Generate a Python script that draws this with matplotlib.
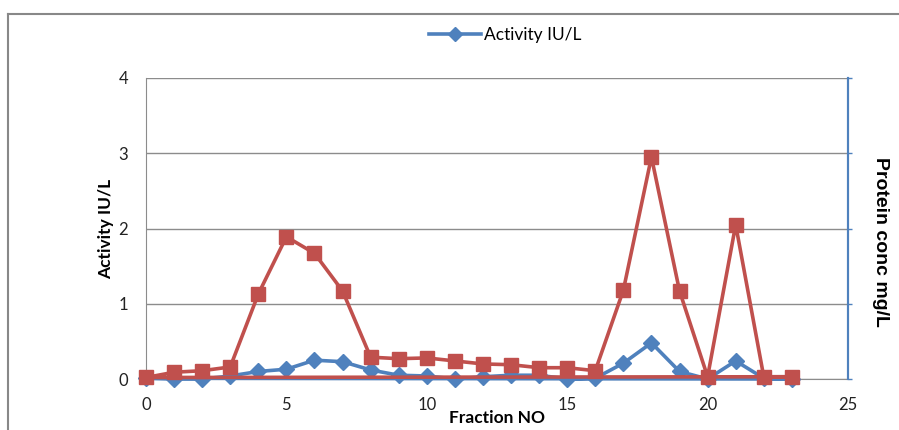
import matplotlib
matplotlib.use("Agg")
import matplotlib.pyplot as plt
from matplotlib.lines import Line2D
import numpy as np

fractions = list(range(0, 24))
activity = [0.01, 0.0, 0.0, 0.04, 0.10, 0.13, 0.25, 0.23, 0.12, 0.05, 0.04, 0.0,
            0.03, 0.05, 0.05, 0.0, 0.01, 0.21, 0.48, 0.10, 0.0, 0.24, 0.01, 0.0]
protein = [0.02, 0.09, 0.11, 0.16, 1.13, 1.89, 1.67, 1.17, 0.29, 0.27, 0.28, 0.24,
           0.20, 0.19, 0.15, 0.15, 0.11, 1.18, 2.95, 1.17, 0.03, 2.05, 0.03, 0.03]
x_ticks = [0, 5, 10, 15, 20, 25]
y_ticks = [0, 1, 2, 3, 4]

BLUE = "#4F81BD"
RED = "#C0504D"
GRID = "#8C8C8C"

plt.rcParams['font.family'] = ['Lato', 'DejaVu Sans']

fig = plt.figure(figsize=(8.99, 4.30), dpi=100)
ax = fig.add_axes([146/899, 1-379/430, (848-146)/899, (379-78)/430])

x = np.array(fractions, dtype=float)
a = np.array(activity)
p = np.array(protein)

# lines (series return to start as in original)
ax.plot(np.append(x, x[0]), np.append(a, a[0]), color=BLUE, lw=2.6, zorder=3,
        solid_joinstyle='round', clip_on=False)
ax.plot(x, a, linestyle='none', marker='D', markersize=8.5, color=BLUE, zorder=3,
        clip_on=False)
ax.plot(np.append(x, x[0]), np.append(p, p[0]), color=RED, lw=2.6, zorder=4,
        solid_joinstyle='round', clip_on=False)
ax.plot(x, p, linestyle='none', marker='s', markersize=10.5, color=RED, zorder=4,
        clip_on=False)

ax.set_xlim(0, 25)
ax.set_ylim(0, 4)
ax.set_xticks(x_ticks)
ax.set_yticks(y_ticks)
ax.yaxis.grid(True, color=GRID, lw=1)
ax.set_axisbelow(True)
ax.tick_params(axis='both', labelsize=12, length=0, colors='#333333', labelcolor='#222222')
ax.tick_params(axis='x', pad=13)
ax.tick_params(axis='y', pad=13)
ax.spines['top'].set_visible(False)
ax.spines['left'].set_color(GRID)
ax.spines['bottom'].set_color(GRID)
ax.spines['right'].set_color(BLUE)
ax.spines['right'].set_linewidth(1.5)

ax2 = ax.twinx()
ax2.set_ylim(0, 4)
ax2.set_yticks(y_ticks)
ax2.set_yticklabels([])
ax2.tick_params(axis='y', length=3, color=BLUE, width=1)
for s in ['top', 'left', 'bottom']:
    ax2.spines[s].set_visible(False)
ax2.spines['right'].set_color(BLUE)
ax2.spines['right'].set_linewidth(1.5)

ax.set_xlabel("Fraction NO", fontsize=12.5, fontweight='bold', labelpad=-2)
ax.set_ylabel("Activity IU/L", fontsize=12.5, fontweight='bold', labelpad=3)
fig.text(880/899, 1-242/430, "Protein conc mg/L", rotation=-90, fontsize=14,
         fontweight='bold', family=['Liberation Sans', 'DejaVu Sans'],
         ha='center', va='center')

handle = Line2D([], [], color=BLUE, lw=2.6, marker='D', markersize=7)
fig.legend([handle], ["Activity IU/L"], loc='center', bbox_to_anchor=(505/899, 1-35/430),
           frameon=False, fontsize=12.5, handlelength=3.0, handletextpad=0.2)

# chart area border
fig.add_artist(Line2D([8/899, 8/899], [0, 1-14/430], transform=fig.transFigure,
                      color='#888888', lw=1.5))
fig.add_artist(Line2D([8/899, 1], [1-14/430, 1-14/430], transform=fig.transFigure,
                      color='#888888', lw=1.5))

fig.savefig("out.png", dpi=100)
